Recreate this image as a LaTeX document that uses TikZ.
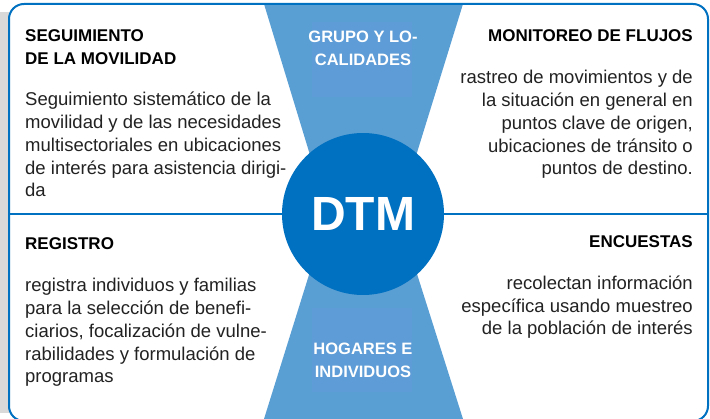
\documentclass[tikz,border=0pt]{standalone}
\usepackage{fontspec}
\setmainfont{Liberation Sans}
\definecolor{dtmblue}{HTML}{0070C0}
\definecolor{flowblue}{HTML}{5A9FD4}
\definecolor{labelblue}{HTML}{5D9CD6}
\definecolor{shadowgray}{HTML}{D9D9D9}
\definecolor{bodygray}{HTML}{222222}
\tikzset{
  heading/.style={inner sep=0pt, font=\fontsize{17}{23}\selectfont\bfseries},
  body/.style={inner sep=0pt, text=bodygray, font=\fontsize{18.5}{22.8}\selectfont},
  flowlabel/.style={inner sep=0pt, align=center, text=white,
    font=\fontsize{16.5}{23}\selectfont\bfseries},
}
\begin{document}
\begin{tikzpicture}[x=1pt,y=-1pt]
    \useasboundingbox (0,0) rectangle (710,419);
    % frame and shadow
    \fill[shadowgray] (0,12) rectangle (9,413);
    \fill[white,rounded corners=15pt] (9,4) rectangle (708,421);
    % hourglass behind the circle
    \fill[flowblue] (264,4) -- (463,4) -- (398,214) -- (463,419)
      -- (264,419) -- (328,214) -- cycle;
    \fill[labelblue] (312,22) rectangle (412,97);
    \fill[labelblue] (312,308) rectangle (412,392);
    \draw[dtmblue,line width=2pt] (9,214) -- (708,214);
    \draw[dtmblue,line width=2pt,rounded corners=15pt] (9,4) rectangle (708,421);
    \node[circle,fill=dtmblue,minimum size=162pt,inner sep=0pt,text=white,
      font=\fontsize{48}{48}\selectfont\bfseries] (dtm) at (363,214) {DTM};
    % labels in the hourglass (base = last line)
    \node[flowlabel,anchor=base] (grupo) at (363,66) {GRUPO Y LO-\\CALIDADES};
    \node[flowlabel,anchor=base] (hogares) at (363,378) {HOGARES E\\INDIVIDUOS};
    % top left
    \node[heading,anchor=base west,align=left] (segTitle) at (25,65)
      {SEGUIMIENTO\\DE LA MOVILIDAD};
    \node[body,anchor=base west,align=left] (segText) at (25,197)
      {Seguimiento sistemático de la\\movilidad y de las necesidades\\
       multisectoriales en ubicaciones\\de interés para asistencia dirigi-\\da};
    % top right
    \node[heading,anchor=base east] (monTitle) at (693,42) {MONITOREO DE FLUJOS};
    \node[body,anchor=base east,align=right] (monText) at (693,175)
      {rastreo de movimientos y de\\la situación en general en\\
       puntos clave de origen,\\ubicaciones de tránsito o\\puntos de destino.};
    % bottom left
    \node[heading,anchor=base west] (regTitle) at (25,250) {REGISTRO};
    \node[body,anchor=base west,align=left] (regText) at (25,383)
      {registra individuos y familias\\para la selección de benefi-\\
       ciarios, focalización de vulne-\\rabilidades y formulación de\\programas};
    % bottom right
    \node[heading,anchor=base east] (encTitle) at (693,248) {ENCUESTAS};
    \node[body,anchor=base east,align=right] (encText) at (693,335)
      {recolectan información\\específica usando muestreo\\de la población de interés};
\end{tikzpicture}
\end{document}
